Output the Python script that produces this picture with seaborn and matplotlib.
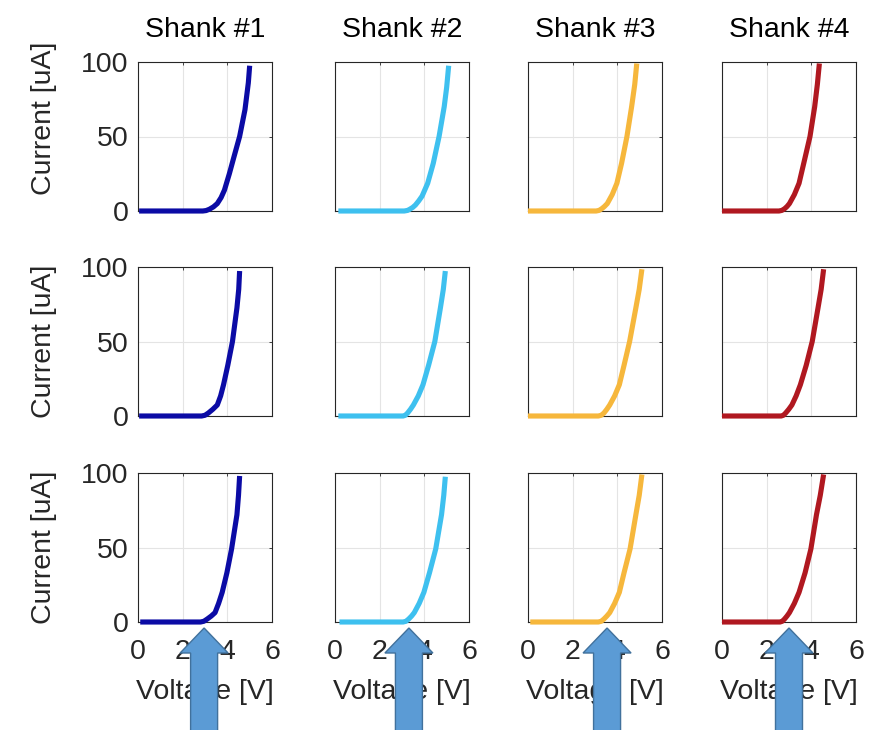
import matplotlib
matplotlib.use("Agg")
import matplotlib.pyplot as plt
from matplotlib.patches import Polygon
import pandas as pd
import seaborn as sns

# Shanks (columns) and their trace colours
shanks = ["Shank #1", "Shank #2", "Shank #3", "Shank #4"]
shank_colors = ["#0b0ba5", "#3ec0ef", "#f6b73c", "#b01820"]

# I-V sweeps: one list per shank, three measurement rows (voltage [V], current [uA])
volt_row1 = [
    [0.05, 2.9, 3.05, 3.2, 3.38, 3.55, 3.72, 3.87, 4.09, 4.3, 4.55, 4.79, 4.94, 5.0],
    [0.15, 3.1, 3.25, 3.35, 3.48, 3.6, 3.75, 3.9, 4.15, 4.4, 4.66, 4.89, 5.0, 5.09],
    [0.0, 3.05, 3.18, 3.3, 3.42, 3.55, 3.77, 3.98, 4.19, 4.43, 4.64, 4.78, 4.87],
    [0.0, 2.55, 2.68, 2.8, 2.91, 3.02, 3.24, 3.45, 3.66, 3.94, 4.15, 4.27, 4.36],
]
curr_row1 = [
    [0, 0, 0.3, 1.2, 2.8, 5, 9, 14, 25, 36.5, 50, 68, 86, 97.5],
    [0, 0, 0.4, 1.2, 2.4, 4, 6.8, 10, 18.6, 32, 50, 70, 83, 97.5],
    [0, 0, 0.4, 1.5, 3, 5, 11, 18.6, 32, 50, 70, 85, 99],
    [0, 0, 0.4, 1.5, 3, 5, 11, 18.6, 32, 50, 70, 85, 99],
]
volt_row2 = [
    [0.05, 2.85, 3.0, 3.15, 3.35, 3.55, 3.7, 3.83, 4.02, 4.23, 4.43, 4.51, 4.55],
    [0.15, 3.05, 3.15, 3.25, 3.38, 3.51, 3.73, 3.94, 4.19, 4.47, 4.72, 4.85, 4.94],
    [0.0, 3.15, 3.28, 3.4, 3.53, 3.66, 3.88, 4.09, 4.3, 4.55, 4.83, 4.98, 5.1],
    [0.0, 2.65, 2.75, 2.85, 2.99, 3.13, 3.32, 3.51, 3.77, 4.04, 4.3, 4.44, 4.55],
]
curr_row2 = [
    [0, 0, 0.5, 2, 4.5, 7.4, 13.5, 21, 34, 50, 72.6, 85, 97.3],
    [0, 0, 0.5, 2, 4.5, 7.4, 13.5, 21, 34, 50, 72.6, 85, 97.3],
    [0, 0, 0.5, 2, 4.5, 7.4, 13.5, 21, 34, 50, 72.6, 85, 98.5],
    [0, 0, 0.5, 2, 4.5, 7.4, 13.5, 21, 34, 50, 72.6, 85, 98.5],
]
volt_row3 = [
    [0.1, 2.8, 2.95, 3.1, 3.28, 3.45, 3.61, 3.77, 3.98, 4.19, 4.43, 4.5, 4.55],
    [0.2, 3.05, 3.18, 3.3, 3.43, 3.55, 3.77, 3.98, 4.23, 4.51, 4.77, 4.87, 4.94],
    [0.1, 3.15, 3.28, 3.4, 3.53, 3.66, 3.88, 4.09, 4.3, 4.57, 4.83, 4.98, 5.1],
    [0.0, 2.6, 2.7, 2.8, 2.91, 3.02, 3.24, 3.45, 3.72, 3.98, 4.23, 4.4, 4.55],
]
curr_row3 = [
    [0, 0, 0.5, 2, 4, 6.3, 12.5, 19.9, 33, 49, 72, 85, 98],
    [0, 0, 0.5, 2, 4, 6.3, 12.5, 19.9, 33, 49, 72, 85, 97.5],
    [0, 0, 0.5, 2, 4, 6.3, 12.5, 19.9, 33, 49, 72, 85, 99],
    [0, 0, 0.5, 2, 4, 6.3, 12.5, 19.9, 33, 49, 72, 85, 99],
]

# Turn-on voltage marked under each shank column
turn_on_voltage = [2.96, 3.31, 3.54, 3.0]

x_ticks = [0, 2, 4, 6]
y_ticks = [0, 50, 100]

rows_v = [volt_row1, volt_row2, volt_row3]
rows_i = [curr_row1, curr_row2, curr_row3]

sns.set_theme(style="white")
plt.rcParams["font.family"] = ["Liberation Sans", "DejaVu Sans"]
plt.rcParams["axes.edgecolor"] = "#262626"
plt.rcParams["axes.linewidth"] = 0.8

W, H = 876, 730
fig = plt.figure(figsize=(W / 100, H / 100), dpi=100)

col_left = [138, 335, 528, 722]
row_top = [62, 267, 473]
ax_w, ax_h = 134, 149
FS = 20.5
TXT = "#262626"

axes_grid = []
for r in range(3):
    row_axes = []
    for c in range(4):
        left = col_left[c] / W
        bottom = (H - row_top[r] - ax_h) / H
        ax = fig.add_axes([left, bottom, ax_w / W, ax_h / H])
        df = pd.DataFrame({"Voltage": rows_v[r][c], "Current": rows_i[r][c]})
        sns.lineplot(data=df, x="Voltage", y="Current", ax=ax,
                     color=shank_colors[c], linewidth=3.7, estimator=None,
                     sort=False, clip_on=False, zorder=3,
                     solid_capstyle="butt", solid_joinstyle="round")
        ax.set_xlim(0, 6)
        ax.set_ylim(0, 100)
        ax.set_xticks(x_ticks)
        ax.set_yticks(y_ticks)
        ax.set_axisbelow(True)
        ax.grid(True, color="#e4e4e4", linewidth=0.8)
        for sp in ax.spines.values():
            sp.set_visible(True)
            sp.set_color("#262626")
            sp.set_linewidth(0.8)
        ax.tick_params(direction="in", length=2, width=0.6, colors="#262626",
                       labelsize=FS, labelcolor=TXT, top=True, right=True)
        ax.tick_params(axis="y", pad=7)
        ax.tick_params(axis="x", pad=12)
        ax.set_xlabel("")
        ax.set_ylabel("")
        if r == 0:
            ax.set_title(shanks[c], fontsize=FS, color="black", pad=18)
        if c == 0:
            ax.set_ylabel("Current [uA]", fontsize=FS, color=TXT)
            ax.yaxis.set_label_coords((57 - 138) / ax_w, 0.62 if r == 0 else 0.5)
        else:
            ax.tick_params(labelleft=False)
        if r == 2:
            ax.set_xlabel("Voltage [V]", fontsize=FS, color=TXT, labelpad=10)
        else:
            ax.tick_params(labelbottom=False)
        row_axes.append(ax)
    axes_grid.append(row_axes)

# Block arrows pointing at the turn-on knee of each bottom-row trace
to_fig = fig.transFigure.inverted()
for c, v in enumerate(turn_on_voltage):
    ax = axes_grid[2][c]
    tx, ty = ax.transData.transform((v, 0))
    tip = ty - 6
    head_base = tip - 25
    end = -20
    hw, sw = 24, 13.5
    pts = [(tx, tip), (tx + hw, head_base), (tx + sw, head_base), (tx + sw, end),
           (tx - sw, end), (tx - sw, head_base), (tx - hw, head_base)]
    pts_fig = to_fig.transform(pts)
    fig.patches.append(Polygon(pts_fig, closed=True, transform=fig.transFigure,
                               facecolor="#5b9bd5", edgecolor="#41719c",
                               linewidth=1.0, zorder=10))

fig.savefig("out.png", dpi=100)
